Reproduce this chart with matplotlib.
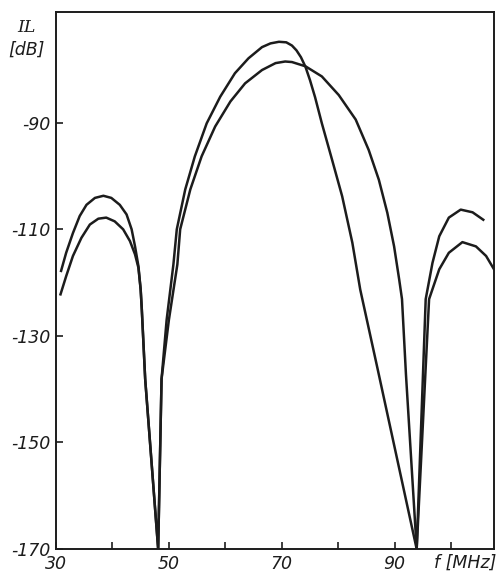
"""
Insertion loss IL vs frequency for two transducer responses
"""

import matplotlib
matplotlib.use("Agg")
import matplotlib.pyplot as plt

# curve with the taller, narrower main lobe (upper side lobes)
ila_f = [30.9, 31.8, 33.0, 34.2, 35.4, 36.9, 38.4, 39.8, 41.3, 42.5, 43.4, 44.0,
         44.6, 45.0, 45.2, 45.8, 48.1,
         48.7, 49.6, 50.8, 51.4, 52.9, 54.6, 56.7, 59.1, 61.7, 64.1, 66.5, 68.0,
         69.5, 70.8, 71.8, 72.6, 73.4, 74.2, 75.0, 75.9, 77.1, 78.9, 80.7, 82.5,
         83.9, 87.0, 93.9,
         95.5, 96.7, 97.9, 99.6, 101.7, 103.8, 105.7]
ila_db = [-117.8, -114.4, -110.7, -107.5, -105.4, -104.1, -103.7, -104.1, -105.4,
          -107.2, -110.0, -113.2, -116.9, -121.3, -125.0, -138.1, -170.0,
          -138.1, -127.0, -116.6, -110.0, -102.5, -96.3, -90.1, -85.1, -80.7,
          -77.9, -75.8, -75.1, -74.8, -74.9, -75.5, -76.4, -77.7, -79.5, -82.0,
          -85.2, -90.1, -96.9, -103.8, -112.5, -121.3, -136.3, -170.0,
          -123.1, -116.3, -111.3, -107.8, -106.3, -106.8, -108.2]

# curve with the broader, lower main lobe (lower side lobes)
ilb_f = [30.8, 31.8, 33.0, 34.5, 36.0, 37.5, 38.9, 40.4, 41.9, 43.1, 44.0, 44.6,
         45.0, 45.2, 45.8, 48.1,
         48.7, 50.0, 51.5, 52.0, 53.8, 55.8, 58.2, 60.9, 63.5, 66.5, 68.9, 70.6,
         71.8, 74.2, 77.1, 80.1, 83.1, 85.4, 87.2, 88.7, 89.9, 90.8, 91.3, 92.0,
         93.9,
         96.1, 97.9, 99.6, 102.0, 104.4, 106.2, 107.6]
ilb_db = [-122.2, -118.8, -115.0, -111.6, -109.1, -108.0, -107.8, -108.5, -110.0,
          -112.2, -114.7, -117.2, -121.3, -125.0, -138.1, -170.0,
          -138.1, -127.0, -116.6, -110.0, -102.5, -96.3, -90.7, -86.0, -82.6,
          -80.1, -78.8, -78.5, -78.6, -79.4, -81.3, -84.8, -89.4, -95.1, -100.7,
          -106.9, -113.2, -119.4, -123.1, -137.2, -170.0,
          -123.1, -117.5, -114.4, -112.4, -113.2, -115.0, -117.5]

x_ticks = [30, 40, 50, 60, 70, 80, 90, 100]
x_labels = ['30', '', '50', '', '70', '', '90', '']
y_ticks = [-170, -150, -130, -110, -90]

ink = '#1c1c1c'

fig = plt.figure(figsize=(5.0, 5.75), dpi=100)
ax = fig.add_axes([0.112, 0.0452, 0.876, 0.934])

ax.plot(ila_f, ila_db, color=ink, lw=1.8, solid_joinstyle='round')
ax.plot(ilb_f, ilb_db, color=ink, lw=1.8, solid_joinstyle='round')

ax.set_xlim(30, 107.6)
ax.set_ylim(-170, -69.2)

ax.set_xticks(x_ticks)
ax.set_xticklabels(x_labels)
ax.set_yticks(y_ticks)
ax.set_yticklabels([str(v) for v in y_ticks])
ax.tick_params(direction='in', length=5, width=1.2, colors=ink,
               labelsize=12.5, pad=4)
for lab in ax.get_xticklabels() + ax.get_yticklabels():
    lab.set_fontstyle('italic')

for sp in ax.spines.values():
    sp.set_linewidth(1.4)
    sp.set_color(ink)

# axis titles sit outside the frame like in the original figure
fig.text(0.052, 0.953, 'IL', ha='center', va='center', fontsize=12.5,
         style='italic', family='DejaVu Serif', color=ink)
fig.text(0.052, 0.913, '[dB]', ha='center', va='center', fontsize=12.5,
         style='italic', color=ink)
fig.text(0.93, 0.021, 'f [MHz]', ha='center', va='center', fontsize=12.5,
         style='italic', color=ink)

fig.savefig('out.png', dpi=100, facecolor='white')
